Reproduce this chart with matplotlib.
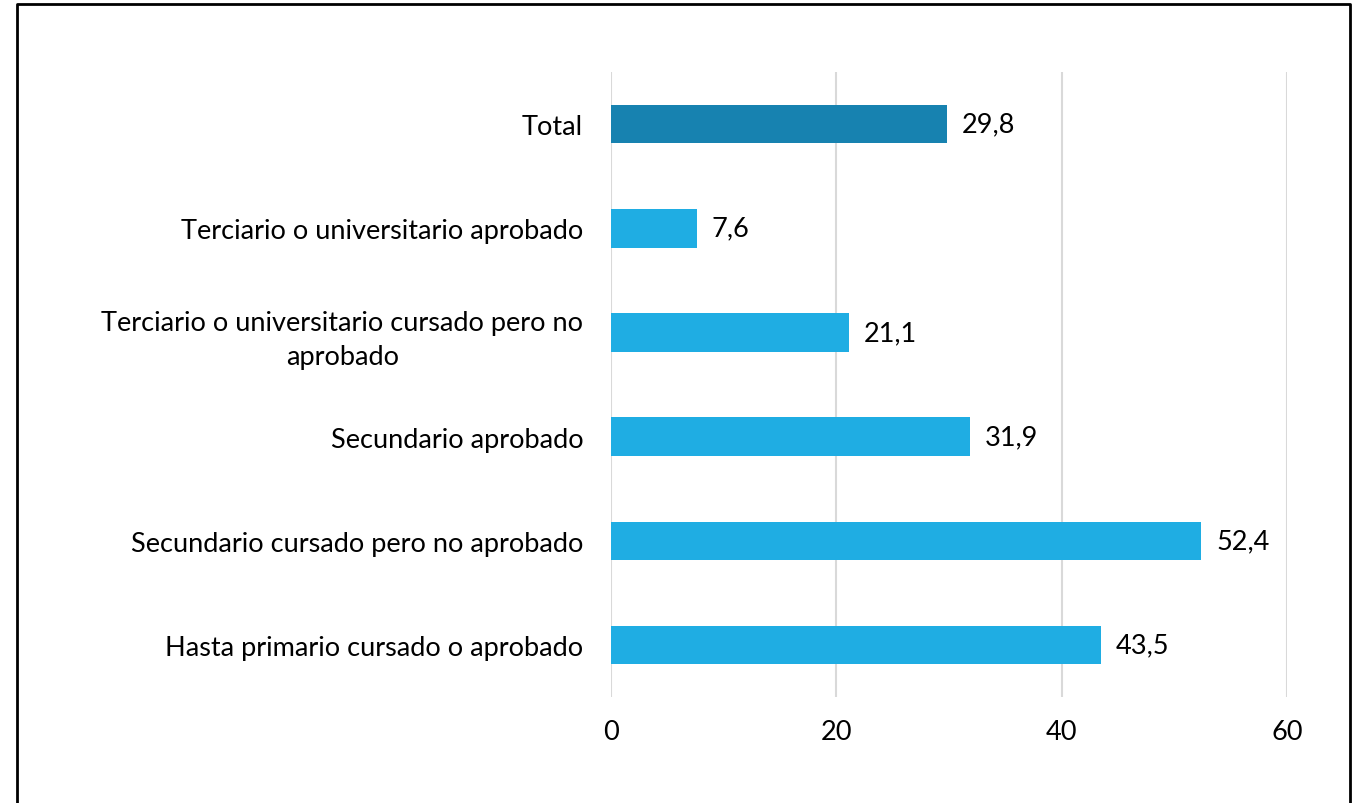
import matplotlib.pyplot as plt
from matplotlib.lines import Line2D

plt.rcParams['font.family'] = ['Lato', 'DejaVu Sans']

categories = [
    "Hasta primario cursado o aprobado",
    "Secundario cursado pero no aprobado",
    "Secundario aprobado",
    "Terciario o universitario cursado pero no\naprobado",
    "Terciario o universitario aprobado",
    "Total",
]
values = [43.5, 52.4, 31.9, 21.1, 7.6, 29.8]
colors = ["#1FADE3"] * 5 + ["#1782B0"]

fig = plt.figure(figsize=(13.56, 8.04), dpi=100)
ax = fig.add_axes([0.4506, 0.1318, 0.4985, 0.7774])

y = range(len(categories))
ax.barh(y, values, height=0.37, color=colors, zorder=3)
for i, v in enumerate(values):
    ax.text(v + 1.3, i, f"{v:.1f}".replace(".", ","), va="center", ha="left",
            fontsize=19.5, color="black")

ax.set_xlim(0, 60)
ax.set_ylim(-0.5, len(categories) - 0.5)
ax.set_xticks([0, 20, 40, 60])
ax.set_yticks(list(y))
ax.set_yticklabels(categories, fontsize=19.5, multialignment="center")
for lbl in ax.get_yticklabels():
    lbl.set_linespacing(1.45)
ax.tick_params(axis="x", length=0, pad=16, labelsize=19.5)
ax.tick_params(axis="y", length=0, pad=20)
ax.grid(axis="x", color="#D9D9D9", linewidth=1.5, zorder=0)
for s in ax.spines.values():
    s.set_visible(False)

# outer frame: left, top, right
x0, x1 = 17 / 1356, 1350 / 1356
ytop = 1 - 5 / 804
fig.add_artist(Line2D([x0, x0, x1, x1], [0, ytop, ytop, 0],
                      transform=fig.transFigure, color="black", linewidth=2))

fig.savefig("out.png", dpi=100)
